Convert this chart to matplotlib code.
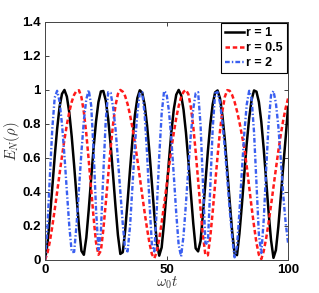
import matplotlib
matplotlib.use("Agg")
import matplotlib.pyplot as plt

plt.rcParams['font.family'] = ['Liberation Sans', 'DejaVu Sans']
plt.rcParams['mathtext.fontset'] = 'cm'

t = list(range(0, 101))

e_r1 = [0, .089, .243, .425, .607, .771, .900, .977, 1.0, .961,
        .867, .726, .555, .371, .194, .053, .030, .130, .295, .479,
        .659, .814, .929, .991, .994, .939, .830, .680, .501, .317,
        .147, .035, .045, .174, .347, .533, .707, .852, .952, .998,
        .984, .913, .791, .629, .448, .264, .105, .025, .073, .221,
        .401, .584, .753, .887, .972, 1.0, .970, .884, .749, .581,
        .394, .215, .068, .050, .111, .272, .455, .637, .796, .916,
        .986, .997, .951, .849, .705, .524, .341, .168, .038, .028,
        .155, .323, .507, .685, .834, .942, .997, .990, .929, .812,
        .651, .467, .280, .116, .012, .058, .196, .370, .548, .716,
        .900]

e_r05 = [0, .039, .108, .196, .295, .399, .506, .610, .707, .795,
         .870, .930, .972, .995, .998, .957, .869, .743, .586, .416,
         .248, .103, .030, .054, .178, .332, .497, .657, .797, .907,
         .976, 1.0, .990, .963, .916, .852, .777, .688, .590, .487,
         .381, .279, .183, .098, .033, .010, .048, .124, .219, .324,
         .435, .546, .652, .749, .835, .905, .957, .989, 1.0, .975,
         .900, .784, .635, .468, .298, .143, .028, .027, .136, .283,
         .448, .610, .758, .878, .960, .999, .995, .970, .930, .875,
         .810, .735, .660, .550, .430, .310, .200, .100, .030, .005,
         .052, .127, .219, .322, .429, .536, .641, .737, .821, .893,
         .950]

e_r2 = [0, .189, .488, .771, .955, .995, .932, .798, .615, .405,
        .200, .046, .047, .208, .421, .635, .821, .945, .999, .910,
        .644, .297, .060, .166, .507, .822, .987, .983, .901, .774,
        .595, .400, .212, .058, .050, .199, .437, .674, .866, .981,
        .987, .858, .622, .335, .084, .050, .303, .610, .861, .994,
        .979, .876, .708, .496, .275, .087, .020, .143, .333, .543,
        .738, .888, .981, .987, .794, .444, .099, .093, .429, .774,
        .981, .988, .925, .808, .654, .477, .294, .134, .015, .081,
        .283, .523, .747, .914, .995, .951, .752, .451, .148, .040,
        .238, .535, .804, .970, .993, .923, .786, .595, .383, .220,
        .100]

labels = ['r = 1', 'r = 0.5', 'r = 2']
xticks = [0, 50, 100]
yticks = [0, 0.2, 0.4, 0.6, 0.8, 1, 1.2, 1.4]
yticklabels = ['0', '0.2', '0.4', '0.6', '0.8', '1', '1.2', '1.4']

fig = plt.figure(figsize=(3.19, 2.93), dpi=100)
ax = fig.add_axes([0.141, 0.113, 0.762, 0.812])

ax.plot(t, e_r1, color='black', lw=1.8, label=labels[0])
ax.plot(t, e_r05, color='#ff1a1a', lw=1.8, dashes=(1.8, 1.1), label=labels[1])
ax.plot(t, e_r2, color='#3a5ff0', lw=1.7, dashes=(2.0, 0.9, 0.6, 0.9), label=labels[2])

ax.set_xlim(0, 100)
ax.set_ylim(0, 1.4)
ax.set_xticks(xticks)
ax.set_xticklabels([str(v) for v in xticks])
ax.set_yticks(yticks)
ax.set_yticklabels(yticklabels)
ax.tick_params(direction='in', length=3, width=0.6, top=True, right=True,
               labelsize=9.5, pad=3, colors='#222222')
for lbl in ax.get_xticklabels() + ax.get_yticklabels():
    lbl.set_fontweight('bold')
    lbl.set_color('black')
for s in ax.spines.values():
    s.set_color('#444444')
    s.set_linewidth(0.7)

ax.set_xlabel(r'$\omega_0 t$', fontsize=10.5, labelpad=-1, color='#333333')
ax.set_ylabel(r'$E_N(\rho)$', fontsize=10.5, labelpad=0, color='#333333')

leg = ax.legend(loc='upper right', prop={'weight': 'bold', 'size': 9},
                handlelength=1.5, handletextpad=0.2, borderpad=0.3,
                labelspacing=0.25, borderaxespad=0.1, fancybox=False,
                framealpha=1)
leg.get_frame().set_edgecolor('black')
leg.get_frame().set_linewidth(0.8)

fig.savefig('out.png', dpi=100)
